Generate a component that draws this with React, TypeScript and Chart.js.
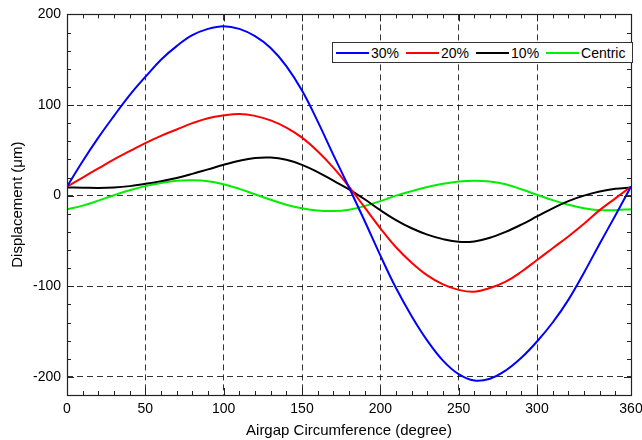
import { useEffect, useRef } from "react";
import { Chart, registerables } from "chart.js";

Chart.register(...registerables);

// Airgap circumference positions (degree)
const degrees = [0, 10, 20, 30, 40, 50, 60, 70, 80, 90, 100, 110, 120, 130, 140, 150, 160, 170, 180, 190, 200, 210, 220, 230, 240, 250, 260, 270, 280, 290, 300, 310, 320, 330, 340, 350, 360];

// Displacement (µm) per eccentricity
const ecc30 = [10, 38, 64, 88, 111, 131, 150, 165, 177, 184, 187, 184, 176, 163, 143, 116, 82, 45, 9, -28, -66, -102, -133, -160, -182, -197, -204, -202, -193, -179, -161, -140, -115, -85, -53, -22, 10];
const ecc20 = [10, 20, 30, 40, 49, 58, 66, 73, 80, 85.5, 88.5, 90, 88, 83, 75, 64, 49, 31, 10, -13, -36, -57, -74, -88, -98, -104, -106, -102, -95, -84, -71, -58, -45, -31, -16, -3, 10];
const ecc10 = [9, 8.8, 8.5, 9, 10.5, 13, 16, 19.5, 24, 29, 34, 38.5, 41.5, 42, 39.5, 34, 26, 16.5, 7, -4, -16, -27, -36, -43, -48, -51, -50.5, -46.5, -40, -32, -23, -14, -6, 0, 4.5, 7.5, 9];
const centric = [-15, -11, -5.5, 0.5, 6, 10.5, 14, 16.5, 17, 16, 12.5, 7.5, 1.5, -4.5, -10, -14, -16.5, -17, -15.5, -11.5, -6, 0, 5, 9.5, 13, 15.5, 16.5, 15.5, 12.5, 7, 1, -5, -10, -14, -16, -16, -15];

const seriesLabels = ["30%", "20%", "10%", "Centric"];
const seriesColors = ["#0000ff", "#ff0000", "#000000", "#00ee00"];

const xTickValues = [0, 50, 100, 150, 200, 250, 300, 360];
const yTickValues = [-200, -100, 0, 100, 200];
const xMinorStep = 10;
const yMinorStep = 20;

const FONT = "'Liberation Sans', Arial, Helvetica, sans-serif";

const framePlugin = {
  id: "frameTicks",
  afterDraw(chart: any) {
    const { ctx, chartArea } = chart;
    const { left, right, top, bottom } = chartArea;
    const xs = chart.scales.x;
    const ys = chart.scales.y;
    ctx.save();
    ctx.strokeStyle = "#222";
    ctx.lineWidth = 1;
    ctx.beginPath();
    for (let v = xs.min; v <= xs.max + 1e-6; v += xMinorStep) {
      const px = Math.round(xs.getPixelForValue(v)) + 0.5;
      ctx.moveTo(px, bottom);
      ctx.lineTo(px, bottom - 4);
      ctx.moveTo(px, top);
      ctx.lineTo(px, top + 4);
    }
    for (let v = -200; v <= ys.max + 1e-6; v += yMinorStep) {
      const py = Math.round(ys.getPixelForValue(v)) + 0.5;
      ctx.moveTo(left, py);
      ctx.lineTo(left + 4, py);
      ctx.moveTo(right, py);
      ctx.lineTo(right - 4, py);
    }
    xTickValues.forEach((v) => {
      const px = Math.round(xs.getPixelForValue(v)) + 0.5;
      ctx.moveTo(px, bottom);
      ctx.lineTo(px, bottom - 7);
      ctx.moveTo(px, top);
      ctx.lineTo(px, top + 7);
    });
    yTickValues.forEach((v) => {
      const py = Math.round(ys.getPixelForValue(v)) + 0.5;
      ctx.moveTo(left, py);
      ctx.lineTo(left + 7, py);
      ctx.moveTo(right, py);
      ctx.lineTo(right - 7, py);
    });
    ctx.stroke();
    ctx.lineWidth = 1.2;
    ctx.strokeRect(Math.round(left) + 0.5, Math.round(top) + 0.5, Math.round(right - left), Math.round(bottom - top));
    ctx.restore();
  },
};

export default function App() {
  const canvasRef = useRef<HTMLCanvasElement | null>(null);

  useEffect(() => {
    document.body.style.margin = "0";
    const canvas = canvasRef.current;
    if (!canvas) return;
    const all = [ecc30, ecc20, ecc10, centric];
    const chart = new Chart(canvas, {
      type: "line",
      data: {
        datasets: all.map((arr, i) => ({
          label: seriesLabels[i],
          data: degrees.map((d, j) => ({ x: d, y: arr[j] })),
          borderColor: seriesColors[i],
          backgroundColor: seriesColors[i],
          borderWidth: 2,
          pointRadius: 0,
          tension: 0.4,
          fill: false,
        })),
      },
      options: {
        responsive: false,
        animation: false,
        layout: { padding: { left: 0, right: 11, top: 14, bottom: 0 } },
        plugins: {
          legend: { display: false },
          tooltip: { enabled: false },
        },
        scales: {
          x: {
            type: "linear",
            min: 0,
            max: 360,
            afterBuildTicks: (scale: any) => {
              scale.ticks = xTickValues.map((v) => ({ value: v }));
            },
            afterFit: (scale: any) => {
              scale.height = 45;
              scale.paddingLeft = 0;
              scale.paddingRight = 0;
            },
            grid: {
              color: "rgba(0,0,0,0.8)",
              lineWidth: 1,
              drawTicks: false,
            },
            border: { display: false, dash: [6, 4] },
            ticks: {
              color: "#000",
              padding: 6,
              maxRotation: 0,
              autoSkip: false,
              font: { family: FONT, size: 14 },
              callback: (v: any) => String(v),
            },
            title: {
              display: true,
              text: "Airgap Circumference (degree)",
              color: "#000",
              font: { family: FONT, size: 15 },
              padding: { top: 4, bottom: 0 },
            },
          },
          y: {
            type: "linear",
            min: -220,
            max: 200,
            afterBuildTicks: (scale: any) => {
              scale.ticks = yTickValues.map((v) => ({ value: v }));
            },
            afterFit: (scale: any) => {
              scale.width = 67;
            },
            grid: {
              color: "rgba(0,0,0,0.8)",
              lineWidth: 1,
              drawTicks: false,
            },
            border: { display: false, dash: [6, 4] },
            ticks: {
              color: "#000",
              padding: 6,
              font: { family: FONT, size: 14 },
              callback: (v: any) => String(v),
            },
            title: {
              display: true,
              text: "Displacement (μm)",
              color: "#000",
              font: { family: FONT, size: 15 },
              padding: { top: 9, bottom: 0 },
            },
          },
        },
      },
      plugins: [framePlugin],
    });
    return () => chart.destroy();
  }, []);

  const legendItem = (label: string, color: string, gap: number) => (
    <div key={label} style={{ display: "flex", alignItems: "center", marginRight: gap }}>
      <div style={{ width: 33, height: 2, background: color, marginRight: 2 }} />
      <span>{label}</span>
    </div>
  );

  return (
    <div style={{ position: "relative", width: 642, height: 440, background: "#fff" }}>
      <canvas ref={canvasRef} width={642} height={440} style={{ display: "block" }} />
      <div
        style={{
          position: "absolute",
          left: 332,
          top: 42,
          width: 296,
          height: 19,
          border: "1px solid #333",
          background: "#fff",
          display: "flex",
          alignItems: "center",
          paddingLeft: 3,
          boxSizing: "content-box",
          fontFamily: FONT,
          fontSize: 14,
          color: "#000",
          whiteSpace: "nowrap",
        }}
      >
        {seriesLabels.map((l, i) => legendItem(l, seriesColors[i], 7))}
      </div>
    </div>
  );
}
